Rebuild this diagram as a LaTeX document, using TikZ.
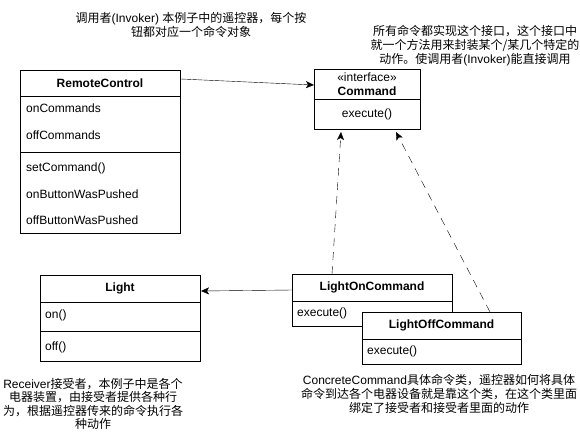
\documentclass[tikz,border=0pt]{standalone}
\usepackage{fontspec}
\setmainfont{Liberation Sans}
\newfontfamily\cjk{Noto Sans CJK SC}
\usetikzlibrary{arrows.meta,positioning,calc}
\tikzset{
    cls/.style =    {rectangle,
                    fill=white,
                    draw=black,
                    line width=1pt,
                    anchor=north west,
                    inner sep=0pt},
    heading/.style ={font=\fontsize{12}{14}\selectfont\bfseries,
                    inner sep=0pt},
    member/.style = {anchor=west,
                    inner sep=0pt},
    note/.style =   {align=center,
                    inner sep=0pt},
    depends/.style ={dash pattern=on 8pt off 6pt},
    -,
    >={Stealth[length=8pt,width=7pt,inset=2pt]},
    line width=1pt}

\begin{document}
\begin{tikzpicture}[x=1pt,y=-1pt,font=\fontsize{12}{14}\selectfont]
                \useasboundingbox (0,0) rectangle (580,440);

                \node[note]     (invokernote)   at (191,24.5)   {{\cjk 调用者}(Invoker) {\cjk 本例子中的遥控器，每个按}\\{\cjk 钮都对应一个命令对象}};
                \node[note]     (commandnote)   at (475,46)     {{\cjk 所有命令都实现这个接口，这个接口中}\\{\cjk 就一个方法用来封装某个/某几个特定的}\\{\cjk 动作。使调用者}(Invoker){\cjk 能直接调用}};
                \node[note,font=\fontsize{12}{13.5}\selectfont] (receivernote)  at (93,404) {Receiver{\cjk 接受者，本例子中是各个}\\{\cjk 电器装置，由接受者提供各种行}\\{\cjk 为，根据遥控器传来的命令执行各}\\{\cjk 种动作}};
                \node[note]     (concretenote)  at (439,394)    {ConcreteCommand{\cjk 具体命令类，遥控器如何将具体}\\{\cjk 命令到达各个电器设备就是靠这个类，在这个类里面}\\{\cjk 绑定了接受者和接受者里面的动作}};

                \node[cls,minimum width=160pt,minimum height=163pt] (rc) at (20,70) {};
                \draw ([yshift=-26pt]rc.north west) -- ([yshift=-26pt]rc.north east);
                \draw ([yshift=-82pt]rc.north west) -- ([yshift=-82pt]rc.north east);
                \node[heading]  (rctitle)       at (100,83)     {RemoteControl};
                \node[member]   (oncommands)    at (26,108)     {onCommands};
                \node[member]   (offcommands)   at (26,135)     {offCommands};
                \node[member]   (setcommand)    at (26,168)     {setCommand()};
                \node[member]   (onpushed)      at (26,194)     {onButtonWasPushed};
                \node[member]   (offpushed)     at (26,220)     {offButtonWasPushed};

                \node[cls,minimum width=106pt,minimum height=60pt] (cmd) at (314,69) {};
                \draw ([yshift=-30pt]cmd.north west) -- ([yshift=-30pt]cmd.north east);
                \node[inner sep=0pt] (stereotype) at (367,77)   {«interface»};
                \node[heading]  (cmdtitle)      at (367,91)     {Command};
                \node[inner sep=0pt] (cmdexecute) at (367,114)  {execute()};

                \node[cls,minimum width=160pt,minimum height=86pt] (light) at (40,275) {};
                \draw ([yshift=-27pt]light.north west) -- ([yshift=-27pt]light.north east);
                \draw ([yshift=-56pt]light.north west) -- ([yshift=-56pt]light.north east);
                \node[heading]  (lighttitle)    at (120,288.5)  {Light};
                \node[member]   (lighton)       at (45,315)     {on()};
                \node[member]   (lightoff)      at (45,347)     {off()};

                \node[cls,minimum width=160pt,minimum height=52pt] (lon) at (292,274) {};
                \draw ([yshift=-27pt]lon.north west) -- ([yshift=-27pt]lon.north east);
                \node[heading]  (lontitle)      at (372,287.5)  {LightOnCommand};
                \node[member]   (lonexecute)    at (297,313.5)  {execute()};

                \node[cls,minimum width=159pt,minimum height=52pt] (loff) at (362,312) {};
                \draw ([yshift=-27pt]loff.north west) -- ([yshift=-27pt]loff.north east);
                \node[heading]  (lofftitle)     at (441.5,325.5) {LightOffCommand};
                \node[member]   (loffexecute)   at (367,351.5)  {execute()};

                \path [->]  ([yshift=-9pt]rc.north east)    edge []         node [] {} ([yshift=-16pt]cmd.north west)
                            ([yshift=-16pt]lon.north west)  edge []         node [] {} ([yshift=-16pt]light.north east)
                            ([xshift=40pt]lon.north west)   edge [depends]  node [] {} ([xshift=27pt,yshift=-2pt]cmd.south west)
                            ([xshift=128pt]loff.north west) edge [depends]  node [] {} ([xshift=82pt,yshift=-2pt]cmd.south west);
        \end{tikzpicture}
\end{document}
